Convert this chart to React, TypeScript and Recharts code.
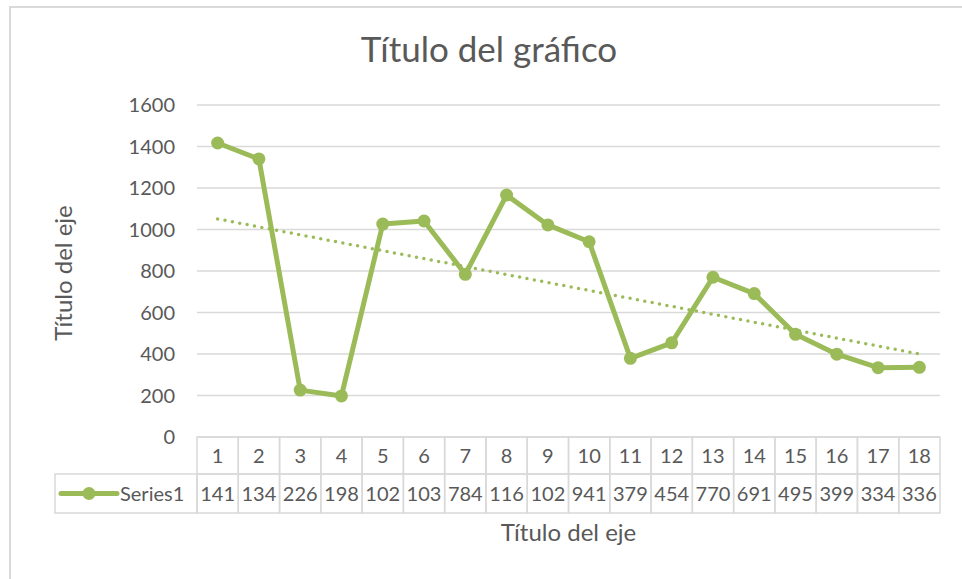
import { ComposedChart, Line, XAxis, YAxis, CartesianGrid } from 'recharts'

const categories = ['1', '2', '3', '4', '5', '6', '7', '8', '9', '10', '11', '12', '13', '14', '15', '16', '17', '18']
const series1 = [1417, 1340, 226, 198, 1026, 1041, 784, 1166, 1022, 941, 379, 454, 770, 691, 495, 399, 334, 336]
// data table shows values cut to the column width
const tableLabels = ['141', '134', '226', '198', '102', '103', '784', '116', '102', '941', '379', '454', '770', '691', '495', '399', '334', '336']
// linear trendline, read at the first and last category
const trendEnds = [1051, 400]
const yTicks = [0, 200, 400, 600, 800, 1000, 1200, 1400, 1600]

const GREEN = '#9BBB59'
const GRID = '#d9d9d9'
const TEXT = '#595959'
const FONT = 'Lato, "Open Sans", sans-serif'

const W = 962
const H = 579
const PLOT_LEFT = 197
const PLOT_RIGHT = 940
const PLOT_TOP = 105
const PLOT_BOTTOM = 437
const AXIS_H = 76
const Y_AXIS_W = 60
const BW = (PLOT_RIGHT - PLOT_LEFT) / categories.length
const ROW1 = 37
const ROW2 = 39

const data = categories.map((c, i) => ({
  cat: c,
  value: series1[i],
  trend: i === 0 ? trendEnds[0] : i === categories.length - 1 ? trendEnds[1] : null,
}))

function TableTick(props: any) {
  const { x, payload } = props
  const index = payload?.index ?? props.index
  const left = x - BW / 2
  const top = PLOT_BOTTOM
  return (
    <g>
      <rect x={left} y={top} width={BW} height={ROW1} fill="none" stroke={GRID} strokeWidth={1.5} />
      <rect x={left} y={top + ROW1} width={BW} height={ROW2} fill="none" stroke={GRID} strokeWidth={1.5} />
      <text x={x} y={top + ROW1 / 2 + 7} textAnchor="middle" fill={TEXT} fontSize={20} fontFamily={FONT}>
        {payload.value}
      </text>
      <text x={x} y={top + ROW1 + ROW2 / 2 + 7} textAnchor="middle" fill={TEXT} fontSize={20} fontFamily={FONT}>
        {tableLabels[index]}
      </text>
      {index === 0 && (
        <g>
          <rect x={left - 142} y={top + ROW1} width={142} height={ROW2} fill="none" stroke={GRID} strokeWidth={1.5} />
          <line x1={left - 136} x2={left - 80} y1={top + ROW1 + ROW2 / 2} y2={top + ROW1 + ROW2 / 2} stroke={GREEN} strokeWidth={5} strokeLinecap="round" />
          <circle cx={left - 108} cy={top + ROW1 + ROW2 / 2} r={6.5} fill={GREEN} />
          <text x={left - 77} y={top + ROW1 + ROW2 / 2 + 7} fill={TEXT} fontSize={20} fontFamily={FONT}>
            Series1
          </text>
        </g>
      )}
    </g>
  )
}

export default function App() {
  return (
    <div style={{ position: 'absolute', left: 0, top: 0, width: W, height: H, background: '#fff', overflow: 'hidden', fontFamily: FONT }}>
      <div style={{ position: 'absolute', left: 9, top: 6, width: 970, height: 600, border: `2px solid ${GRID}`, boxSizing: 'border-box' }} />
      <div style={{ position: 'absolute', left: 0, width: 978, top: 27, textAlign: 'center', fontSize: 35, color: TEXT, lineHeight: '42px' }}>
        Título del gráfico
      </div>
      <div
        style={{
          position: 'absolute',
          left: 62,
          top: (PLOT_TOP + PLOT_BOTTOM) / 2 + 2,
          transform: 'translate(-50%, -50%) rotate(-90deg)',
          whiteSpace: 'nowrap',
          fontSize: 24,
          color: TEXT,
        }}
      >
        Título del eje
      </div>
      <div style={{ position: 'absolute', left: PLOT_LEFT, width: PLOT_RIGHT - PLOT_LEFT, top: 517, textAlign: 'center', fontSize: 24, color: TEXT, lineHeight: '30px' }}>
        Título del eje
      </div>
      <ComposedChart
        width={W}
        height={H}
        data={data}
        margin={{ top: PLOT_TOP, right: W - PLOT_RIGHT, left: PLOT_LEFT - Y_AXIS_W, bottom: H - PLOT_BOTTOM - AXIS_H }}
        style={{ position: 'absolute', left: 0, top: 0 }}
      >
        <CartesianGrid vertical={false} stroke={GRID} strokeWidth={1.5} />
        <XAxis
          dataKey="cat"
          scale="band"
          height={AXIS_H}
          interval={0}
          axisLine={false}
          tickLine={false}
          tick={<TableTick />}
        />
        <YAxis
          width={Y_AXIS_W}
          domain={[0, 1600]}
          ticks={yTicks}
          axisLine={false}
          tickLine={false}
          tickMargin={16}
          tick={{ fill: TEXT, fontSize: 20, fontFamily: FONT }}
        />
        <Line
          dataKey="trend"
          connectNulls
          stroke={GREEN}
          strokeWidth={3.5}
          strokeDasharray="0 7.5"
          strokeLinecap="round"
          dot={false}
          activeDot={false}
          isAnimationActive={false}
        />
        <Line
          dataKey="value"
          stroke={GREEN}
          strokeWidth={5}
          strokeLinejoin="round"
          dot={{ r: 6.5, fill: GREEN, stroke: GREEN, strokeWidth: 0 }}
          activeDot={false}
          isAnimationActive={false}
        />
      </ComposedChart>
    </div>
  )
}
